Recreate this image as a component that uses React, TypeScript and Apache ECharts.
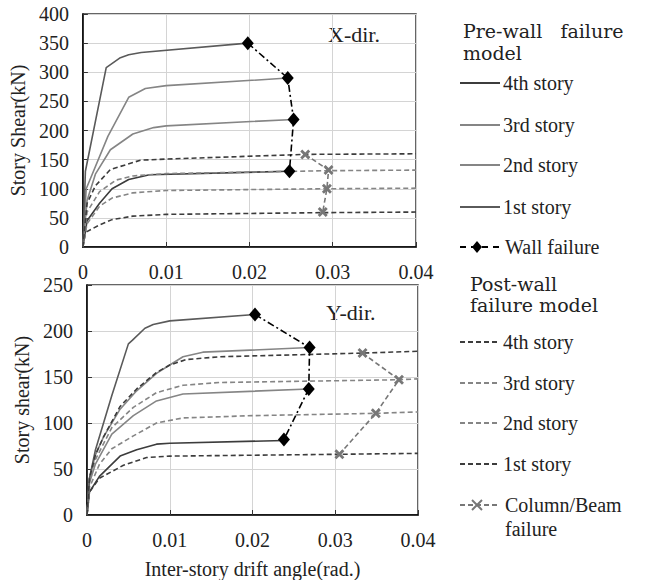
import React, { useEffect, useRef } from "react";
import * as echarts from "echarts";

// ---------- axis ticks ----------
const xTickLabels = ["0", "0.01", "0.02", "0.03", "0.04"];
const topYMax = 400;
const bottomYMax = 250;

// ---------- X-direction (top) : pre-wall failure model ----------
const xPre4th: [number, number][] = [[0, 0], [0.0005, 45], [0.002, 75], [0.0035, 100], [0.0055, 116], [0.008, 124], [0.0248, 130]];
const xPre3rd: [number, number][] = [[0, 0], [0.0005, 80], [0.0015, 125], [0.0033, 167], [0.006, 194], [0.0085, 205], [0.01, 208], [0.0253, 219]];
const xPre2nd: [number, number][] = [[0, 0], [0.0004, 100], [0.003, 190], [0.0055, 257], [0.0075, 272], [0.01, 277], [0.0246, 290]];
const xPre1st: [number, number][] = [[0, 0], [0.0003, 130], [0.0028, 308], [0.0045, 325], [0.0055, 330], [0.007, 334], [0.0198, 350]];
const xWallFail: [number, number][] = [[0.0198, 350], [0.0246, 290], [0.0253, 219], [0.0248, 130]];

// ---------- X-direction (top) : post-wall failure model ----------
const xPost4th: [number, number][] = [[0, 0], [0.0003, 25], [0.002, 38], [0.0035, 47], [0.006, 53], [0.01, 56], [0.0288, 59], [0.04, 60]];
const xPost3rd: [number, number][] = [[0, 0], [0.0005, 40], [0.002, 70], [0.0035, 84], [0.006, 93], [0.01, 97], [0.0293, 100], [0.04, 101]];
const xPost2nd: [number, number][] = [[0, 0], [0.0005, 60], [0.002, 95], [0.004, 115], [0.006, 122], [0.01, 126], [0.0295, 131], [0.04, 132]];
const xPost1st: [number, number][] = [[0, 0], [0.0005, 75], [0.0015, 105], [0.0033, 133], [0.0069, 149], [0.01, 151], [0.0267, 159], [0.04, 160]];
const xColFail: [number, number][] = [[0.0267, 159], [0.0295, 132], [0.0293, 100], [0.0288, 60]];

// ---------- Y-direction (bottom) : pre-wall failure model ----------
const yPre4th: [number, number][] = [[0, 0], [0.0003, 25], [0.0015, 42], [0.004, 64], [0.006, 71], [0.0084, 77], [0.01, 78], [0.0238, 81]];
const yPre3rd: [number, number][] = [[0, 0], [0.0003, 35], [0.001, 55], [0.003, 88], [0.0056, 108], [0.0084, 124], [0.0116, 131.5], [0.0268, 137]];
const yPre2nd: [number, number][] = [[0, 0], [0.0003, 40], [0.001, 65], [0.002, 85], [0.004, 115], [0.006, 135], [0.0084, 154], [0.01, 163], [0.0116, 172], [0.014, 177], [0.0269, 182]];
const yPre1st: [number, number][] = [[0, 0], [0.0003, 40], [0.001, 70], [0.003, 130], [0.005, 186], [0.0055, 190], [0.007, 203], [0.008, 207], [0.01, 211], [0.0203, 218]];
const yWallFail: [number, number][] = [[0.0203, 218], [0.0269, 182], [0.0268, 137], [0.0238, 82]];

// ---------- Y-direction (bottom) : post-wall failure model ----------
const yPost4th: [number, number][] = [[0, 0], [0.0003, 25], [0.0015, 40], [0.0044, 54], [0.0072, 62.5], [0.01, 64], [0.0305, 66], [0.04, 67]];
const yPost3rd: [number, number][] = [[0, 0], [0.0003, 30], [0.0015, 55], [0.003, 72], [0.0056, 86], [0.0084, 100], [0.0116, 105.5], [0.02, 108], [0.0349, 110.5], [0.04, 112]];
const yPost2nd: [number, number][] = [[0, 0], [0.0003, 38], [0.001, 60], [0.003, 95], [0.0056, 117], [0.0084, 133], [0.0116, 141], [0.016, 144], [0.0377, 147], [0.04, 148]];
const yPost1st: [number, number][] = [[0, 0], [0.0003, 40], [0.001, 65], [0.002, 85], [0.004, 118], [0.006, 137], [0.0084, 155], [0.01, 163], [0.012, 169], [0.016, 172], [0.0333, 176], [0.04, 178]];
const yColFail: [number, number][] = [[0.0333, 176], [0.0377, 147], [0.0349, 110.5], [0.0305, 66]];

// ---------- legend texts ----------
const preLegendTitle = ["Pre-wall   failure", "model"];
const postLegendTitle = ["Post-wall", "failure model"];
const storyNames = ["4th story", "3rd story", "2nd story", "1st story"];

const SERIF = "Liberation Serif";
const WIDE_SERIF = "DejaVu Serif";
const DARK = "#3c3c3c";
const MID = "#5a5a5a";
const GRAY = "#858585";
const DASH: number[] = [5, 3];
const DASHDOT: number[] = [7, 3, 2, 3];
const CROSS = "path://M2,0 L5,3 L8,0 L10,2 L7,5 L10,8 L8,10 L5,7 L2,10 L0,8 L3,5 L0,2 Z";

const preColors = [DARK, GRAY, GRAY, MID];
const postColors = [DARK, GRAY, GRAY, DARK];

function curve(data: [number, number][], idx: number, color: string, dashed: boolean) {
  return {
    type: "line",
    xAxisIndex: idx,
    yAxisIndex: idx,
    data,
    symbol: "none",
    showSymbol: false,
    lineStyle: { color, width: 1.6, type: dashed ? DASH : "solid" },
    z: 2,
    silent: true,
  };
}

function wallFail(data: [number, number][], idx: number) {
  return {
    type: "line",
    xAxisIndex: idx,
    yAxisIndex: idx,
    data,
    symbol: "diamond",
    symbolSize: [12, 14],
    itemStyle: { color: "#000" },
    lineStyle: { color: "#000", width: 1.6, type: DASHDOT },
    z: 5,
    silent: true,
  };
}

function colFail(data: [number, number][], idx: number) {
  return {
    type: "line",
    xAxisIndex: idx,
    yAxisIndex: idx,
    data,
    symbol: CROSS,
    symbolSize: 10,
    itemStyle: { color: "#777" },
    lineStyle: { color: "#777", width: 1.6, type: DASH },
    z: 5,
    silent: true,
  };
}

const tickStyle = { show: true, inside: true, length: 5, lineStyle: { color: "#333", width: 1 } };

function xAxis(idx: number) {
  return {
    type: "value",
    gridIndex: idx,
    min: 0,
    max: 0.04,
    interval: 0.01,
    axisLine: { show: true, onZero: false, lineStyle: { color: "#000", width: 1.5 } },
    axisTick: tickStyle,
    splitLine: { show: true, lineStyle: { color: "#d4d4d4", width: 1 } },
    axisLabel: {
      margin: 15,
      fontFamily: SERIF,
      fontSize: 20,
      color: "#222",
      formatter: (v: number) => xTickLabels[Math.round(v * 100)] ?? "",
    },
    name: idx === 1 ? "Inter-story drift angle(rad.)" : "",
    nameLocation: "middle",
    nameGap: 44,
    nameTextStyle: { fontFamily: SERIF, fontSize: 20, color: "#222" },
  };
}

function yAxis(idx: number, max: number, name: string) {
  return {
    type: "value",
    gridIndex: idx,
    min: 0,
    max,
    interval: 50,
    axisLine: { show: true, lineStyle: { color: "#000", width: 1.5 } },
    axisTick: tickStyle,
    splitLine: { show: true, lineStyle: { color: "#d4d4d4", width: 1 } },
    axisLabel: { margin: 14, fontFamily: SERIF, fontSize: 20, color: "#222" },
    name,
    nameLocation: "middle",
    nameGap: 52,
    nameTextStyle: { fontFamily: SERIF, fontSize: 20, color: "#222" },
  };
}

function legendGraphics() {
  const g: any[] = [];
  const txt = (x: number, y: number, text: string, font = SERIF, size = 20) =>
    g.push({
      type: "text",
      x,
      y,
      style: { text, fontFamily: font, fontSize: size, fill: "#222", textVerticalAlign: "middle", textAlign: "left" },
    });
  const line = (y: number, color: string, dash: number[] | null) =>
    g.push({
      type: "line",
      shape: { x1: 460, y1: y, x2: 500, y2: y },
      style: { stroke: color, lineWidth: 1.8, lineDash: dash || undefined },
    });

  txt(463, 31, preLegendTitle[0], WIDE_SERIF, 19);
  txt(463, 53, preLegendTitle[1], WIDE_SERIF, 19);
  const preY = [83, 125, 165, 207];
  preY.forEach((y, i) => {
    line(y, preColors[i], null);
    txt(503, y, storyNames[i]);
  });
  // wall failure
  line(247, "#000", [6, 5]);
  g.push({ type: "polygon", shape: { points: [[477, 241], [482, 247], [477, 253], [472, 247]] }, style: { fill: "#000" } });
  txt(505, 247, "Wall failure");

  txt(470, 284, postLegendTitle[0], WIDE_SERIF, 19);
  txt(470, 305, postLegendTitle[1], WIDE_SERIF, 19);
  const postY = [342, 383, 423, 464];
  postY.forEach((y, i) => {
    line(y, postColors[i], DASH);
    txt(503, y, storyNames[i]);
  });
  line(505, "#777", DASH);
  g.push({ type: "line", shape: { x1: 472, y1: 500, x2: 482, y2: 510 }, style: { stroke: "#777", lineWidth: 2 } });
  g.push({ type: "line", shape: { x1: 482, y1: 500, x2: 472, y2: 510 }, style: { stroke: "#777", lineWidth: 2 } });
  txt(505, 505, "Column/Beam");
  txt(505, 529, "failure");

  // direction labels
  txt(328, 34, "X-dir.", SERIF, 22);
  txt(326, 312, "Y-dir.", SERIF, 22);
  return g;
}

export default function App() {
  const ref = useRef<HTMLDivElement>(null);
  useEffect(() => {
    if (!ref.current) return;
    const chart = echarts.init(ref.current, null, { renderer: "svg" });
    chart.setOption({
      animation: false,
      backgroundColor: "#fff",
      grid: [
        { left: 82, top: 14, width: 334, height: 233, show: true, borderColor: "#333", borderWidth: 1.5, backgroundColor: "transparent" },
        { left: 87, top: 285, width: 331, height: 231, show: true, borderColor: "#333", borderWidth: 1.5, backgroundColor: "transparent" },
      ],
      xAxis: [xAxis(0), xAxis(1)],
      yAxis: [yAxis(0, topYMax, "Story Shear(kN)"), yAxis(1, bottomYMax, "Story shear(kN)")],
      series: [
        curve(xPre4th, 0, preColors[0], false),
        curve(xPre3rd, 0, preColors[1], false),
        curve(xPre2nd, 0, preColors[2], false),
        curve(xPre1st, 0, preColors[3], false),
        curve(xPost4th, 0, postColors[0], true),
        curve(xPost3rd, 0, postColors[1], true),
        curve(xPost2nd, 0, postColors[2], true),
        curve(xPost1st, 0, postColors[3], true),
        wallFail(xWallFail, 0),
        colFail(xColFail, 0),
        curve(yPre4th, 1, preColors[0], false),
        curve(yPre3rd, 1, preColors[1], false),
        curve(yPre2nd, 1, preColors[2], false),
        curve(yPre1st, 1, preColors[3], false),
        curve(yPost4th, 1, postColors[0], true),
        curve(yPost3rd, 1, postColors[1], true),
        curve(yPost2nd, 1, postColors[2], true),
        curve(yPost1st, 1, postColors[3], true),
        wallFail(yWallFail, 1),
        colFail(yColFail, 1),
      ],
      graphic: legendGraphics(),
    });
    return () => chart.dispose();
  }, []);
  return <div ref={ref} style={{ position: "fixed", left: 0, top: 0, width: 646, height: 580 }} />;
}
